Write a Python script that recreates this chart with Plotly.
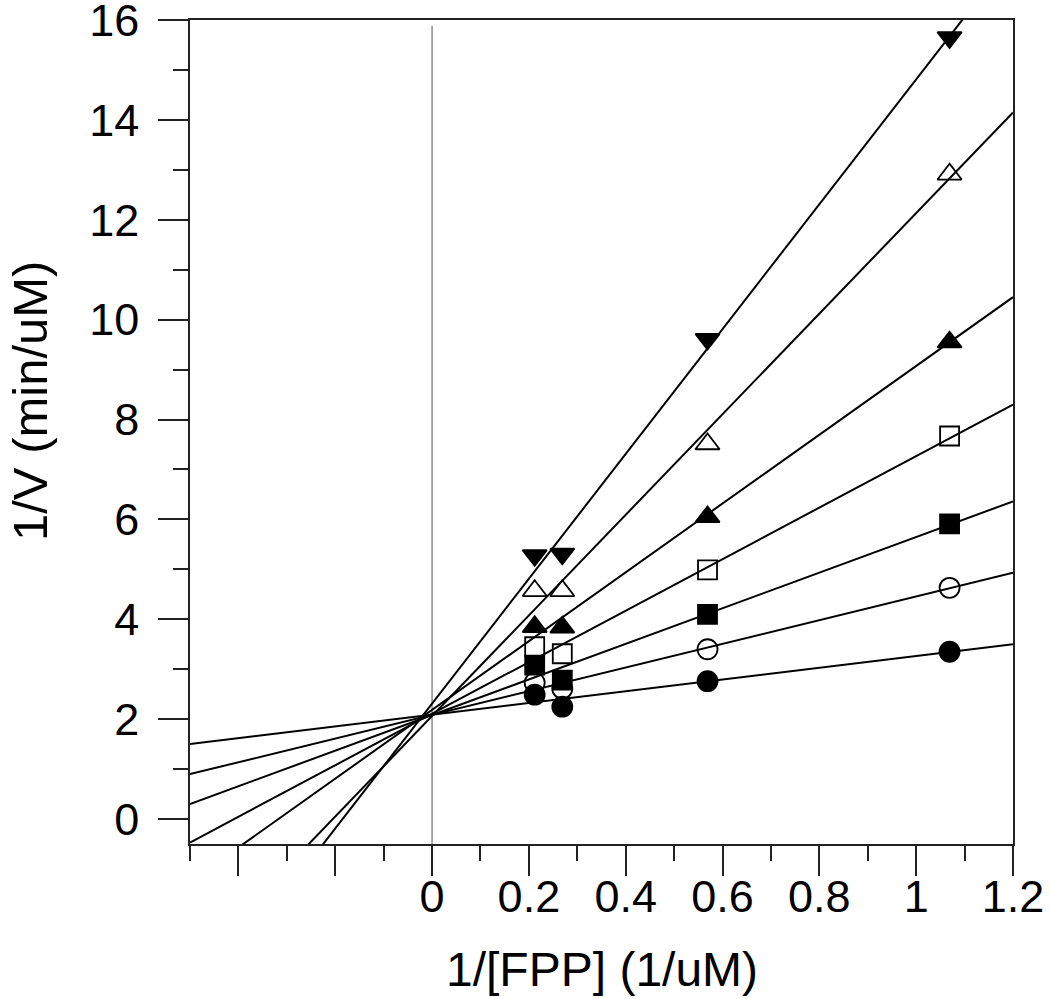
import numpy as np
import plotly.graph_objects as go

# ---- data ----
x_inv_fpp = [0.212, 0.269, 0.569, 1.069]

y_filled_circle = [2.49, 2.25, 2.76, 3.35]
y_open_circle = [2.73, 2.61, 3.40, 4.63]
y_filled_square = [3.08, 2.78, 4.10, 5.91]
y_open_square = [3.45, 3.31, 4.99, 7.67]
y_filled_up = [3.85, 3.84, 6.05, 9.55]
y_open_up = [4.57, 4.57, 7.51, 12.91]
y_filled_down = [5.28, 5.31, 9.61, 15.65]

# fitted lines (slope, intercept) in the same order as the series
fit_slopes = [1.176, 2.371, 3.565, 5.159, 6.887, 10.07, 12.50]
fit_intercepts = [2.088, 2.085, 2.082, 2.109, 2.186, 2.064, 2.311]

x_major_ticks = [-0.4, -0.2, 0, 0.2, 0.4, 0.6, 0.8, 1.0, 1.2]
x_major_labels = ["", "", "0", "0.2", "0.4", "0.6", "0.8", "1", "1.2"]
x_minor_ticks = [-0.5, -0.3, -0.1, 0.1, 0.3, 0.5, 0.7, 0.9, 1.1]
y_major_ticks = [0, 2, 4, 6, 8, 10, 12, 14, 16]
y_minor_ticks = [1, 3, 5, 7, 9, 11, 13, 15]

x_range = [-0.5, 1.2]
y_range = [-0.5, 16.0001]
zero_line_y = [-0.5, 15.88]

series = [
    (y_filled_circle, "circle", 20),
    (y_open_circle, "circle-open", 20),
    (y_filled_square, "square", 19),
    (y_open_square, "square-open", 19),
    (y_filled_up, "triangle-up", 21),
    (y_open_up, "triangle-up-open", 21),
    (y_filled_down, "triangle-down", 21),
]

FONT = "Liberation Sans, Arial, Helvetica, sans-serif"

fig = go.Figure()

# vertical reference line at x = 0
fig.add_trace(go.Scatter(x=[0, 0], y=zero_line_y, mode="lines",
                         line=dict(color="#8c8c8c", width=1.5),
                         hoverinfo="skip", showlegend=False))

# fitted lines
xl = np.array(x_range)
for s, b in zip(fit_slopes, fit_intercepts):
    fig.add_trace(go.Scatter(x=xl, y=b + s * xl, mode="lines",
                             line=dict(color="black", width=2),
                             hoverinfo="skip", showlegend=False))

# data points
for ys, sym, sz in series:
    fig.add_trace(go.Scatter(x=x_inv_fpp, y=ys, mode="markers",
                             marker=dict(symbol=sym, size=sz, color="black",
                                         line=dict(color="black", width=1.8)),
                             cliponaxis=False, showlegend=False))

axis_common = dict(showline=True, linecolor="#222222", linewidth=1.5,
                   mirror=True, showgrid=False, zeroline=False, automargin=False,
                   ticks="outside", ticklen=30, tickwidth=1.5, tickcolor="#222222",
                   ticklabeloverflow="allow",
                   tickfont=dict(family=FONT, size=45, color="black"))

fig.update_xaxes(range=x_range, tickmode="array", tickvals=x_major_ticks,
                 ticktext=x_major_labels,
                 minor=dict(tickmode="array", tickvals=x_minor_ticks, ticklen=15,
                            tickwidth=1.5, tickcolor="#222222", ticks="outside"),
                 ticklabelstandoff=-18,
                 **axis_common)
fig.update_yaxes(range=y_range, tickmode="array", tickvals=y_major_ticks,
                 ticktext=[str(v) for v in y_major_ticks],
                 minor=dict(tickmode="array", tickvals=y_minor_ticks, ticklen=15,
                            tickwidth=1.5, tickcolor="#222222", ticks="outside"),
                 ticklabelstandoff=10,
                 **axis_common)

fig.add_annotation(text="1/[FPP] (1/uM)", xref="paper", yref="paper",
                   x=0.5, y=-0.152, xanchor="center", yanchor="middle",
                   showarrow=False, font=dict(family=FONT, size=48, color="black"))
fig.add_annotation(text="1/V (min/uM)", xref="paper", yref="paper",
                   x=-0.195, y=0.537, xanchor="center", yanchor="middle",
                   textangle=-90,
                   showarrow=False, font=dict(family=FONT, size=49, color="black"))

fig.update_layout(width=1050, height=999,
                  margin=dict(l=190, r=37, t=20, b=155),
                  paper_bgcolor="white", plot_bgcolor="white",
                  showlegend=False)

# remove the browser's default page margin so the figure sits at the window origin
fig.write_html("out.html",
               config={"displayModeBar": False},
               post_script="document.body.style.margin='0';"
                           "document.body.style.overflow='hidden';")
